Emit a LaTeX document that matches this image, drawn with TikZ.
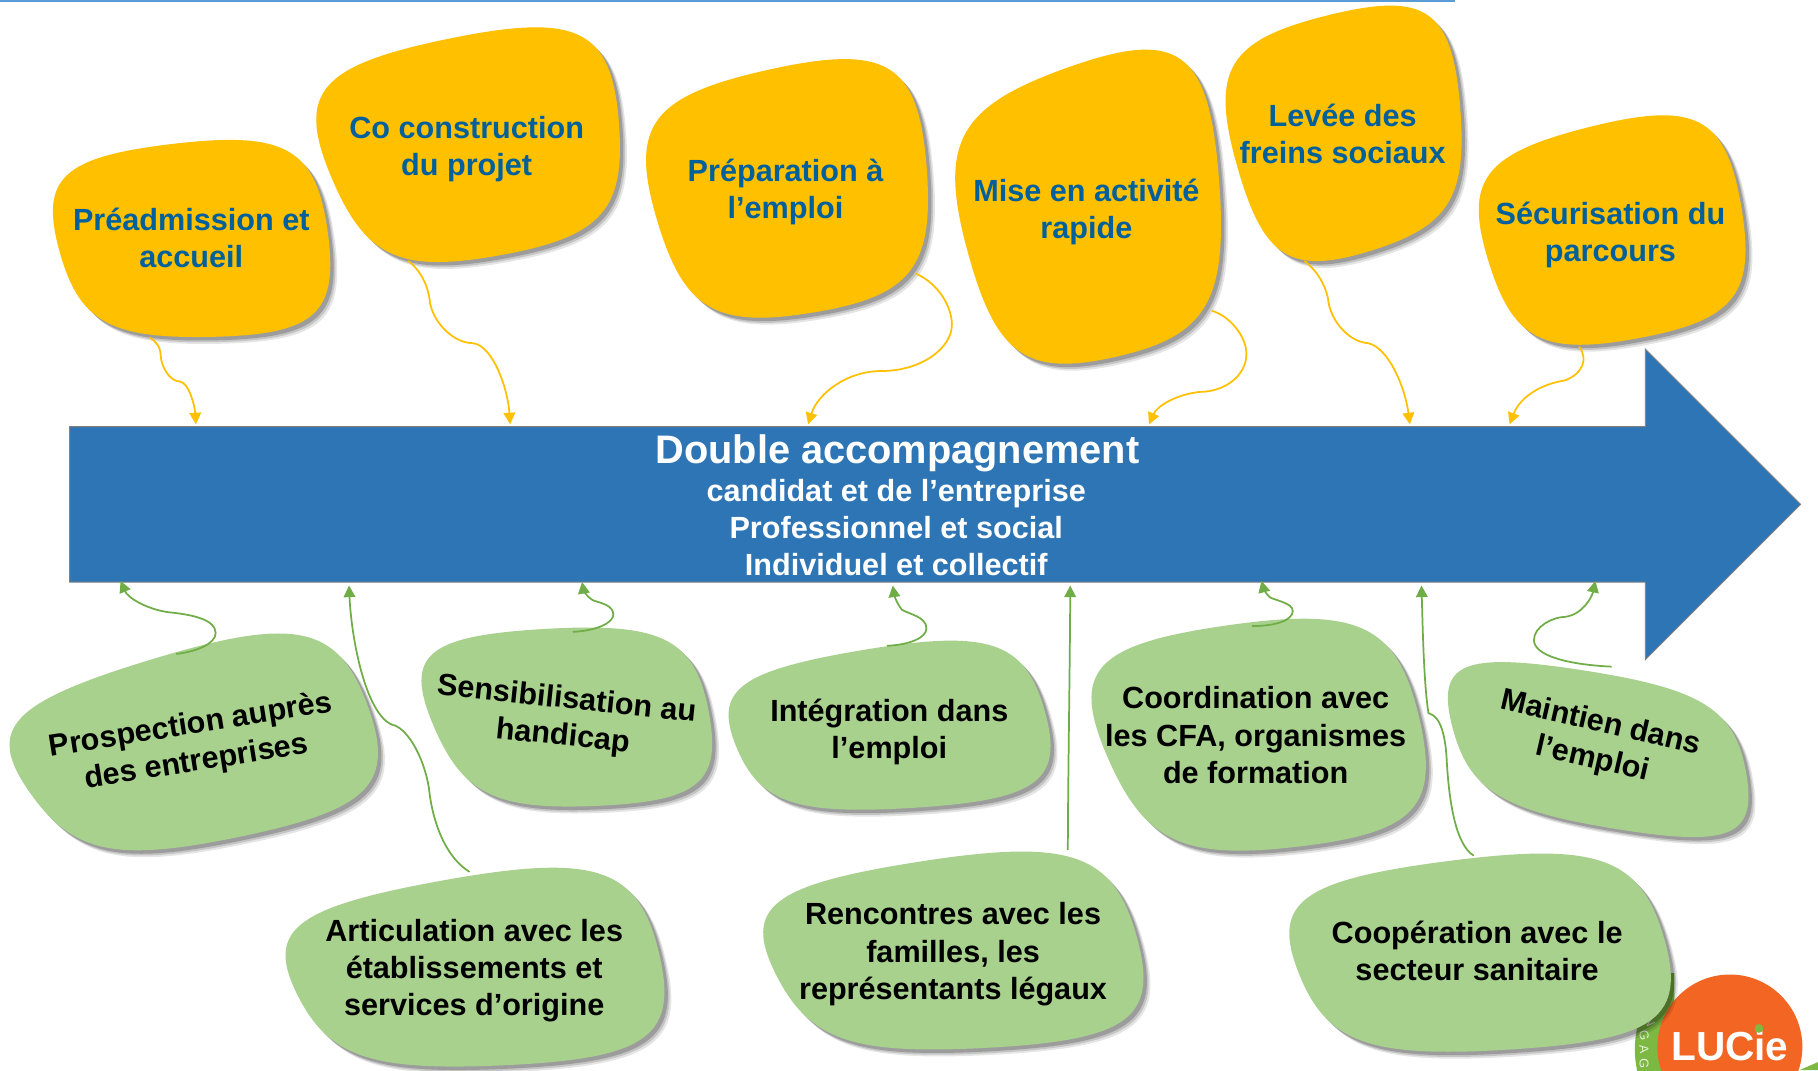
\documentclass[tikz,border=0pt]{standalone}
\usepackage{fontspec}
\setmainfont{Liberation Sans}
\usetikzlibrary{arrows.meta,calc}
\definecolor{orangeblob}{HTML}{FFC000}
\definecolor{greenblob}{HTML}{A9D18E}
\definecolor{greenline}{HTML}{70AD47}
\definecolor{blueband}{HTML}{2E75B6}
\definecolor{blueline}{HTML}{5B9BD5}
\definecolor{bluetext}{HTML}{00609C}
\definecolor{logoorange}{HTML}{F26522}
\definecolor{logogreen}{HTML}{7DB843}
\tikzset{
  x=1pt,y=-1pt,
  orangetext/.style={font=\fontsize{26.4}{32}\selectfont\bfseries,text=bluetext,align=center,inner sep=0pt},
  greentext/.style={font=\fontsize{26.4}{32}\selectfont\bfseries,text=black,align=center,inner sep=0pt},
  whitetext/.style={font=\fontsize{26.4}{32}\selectfont\bfseries,text=white,align=center,inner sep=0pt},
  orangelink/.style={draw=orangeblob,line width=1.5pt,-{Triangle[length=10pt,width=10pt]}},
  greenlink/.style={draw=greenline,line width=1.5pt,-{Triangle[length=10pt,width=10pt]}},
  ringletter/.style={font=\fontsize{11}{11}\selectfont,text=white!80!logogreen,inner sep=0pt},
}
\newcommand{\myblob}[5]{%
  \coordinate (pa) at #2; \coordinate (pb) at #3; \coordinate (pc) at #4; \coordinate (pd) at #5;
  \coordinate (mab) at ($(pa)!.5!(pb)$); \coordinate (mbc) at ($(pb)!.5!(pc)$);
  \coordinate (mcd) at ($(pc)!.5!(pd)$); \coordinate (mda) at ($(pd)!.5!(pa)$);
  \def\blobshape{(mab) .. controls ($(mab)!.8!(pb)$) and ($(mbc)!.8!(pb)$) .. (mbc)
    .. controls ($(mbc)!.8!(pc)$) and ($(mcd)!.8!(pc)$) .. (mcd)
    .. controls ($(mcd)!.8!(pd)$) and ($(mda)!.8!(pd)$) .. (mda)
    .. controls ($(mda)!.8!(pa)$) and ($(mab)!.8!(pa)$) .. (mab) -- cycle}%
  \fill[black,opacity=.10,transform canvas={xshift=6pt,yshift=-6pt}] \blobshape;
  \fill[black,opacity=.14,transform canvas={xshift=4.5pt,yshift=-4.5pt}] \blobshape;
  \fill[black,opacity=.20,transform canvas={xshift=3pt,yshift=-3pt}] \blobshape;
  \fill[#1] \blobshape;
}
\begin{document}
\begin{tikzpicture}
\useasboundingbox (0,0) rectangle (1568,923);
\fill[white] (0,0) rectangle (1568,923);
\draw[blueline,line width=2pt] (0,1) -- (1255,1);

% logo
\begin{scope}
\clip (1400,840) rectangle (1444,923);
\fill[logogreen] (1494,905) circle[radius=84];
\end{scope}
\fill[logoorange] (1492,903) circle[radius=62.5];
\fill[logogreen] (1552,923) -- (1568,923) -- (1568,916) -- cycle;
\node[font=\fontsize{35}{35}\selectfont\bfseries,text=white,inner sep=0pt,anchor=base] (logo) at (1492,915) {LUCie};
\fill[logogreen] (1517,887) circle[radius=3.8];
\node[ringletter,rotate=-65] (ringn) at (1423,881) {N};
\node[ringletter,rotate=-78] (ringg) at (1418,893) {G};
\node[ringletter,rotate=-85] (ringa) at (1418,905) {A};
\node[ringletter,rotate=-92] (ringh) at (1418,917) {G};

% band
\draw[fill=blueband,draw=gray,line width=.8pt] (60,368) -- (1419,368) -- (1419,301) -- (1553,435) -- (1419,569) -- (1419,502) -- (60,502) -- cycle;
\node[font=\fontsize{34.3}{40}\selectfont\bfseries,text=white,inner sep=0pt] (title) at (774,391) {Double accompagnement};
\node[whitetext] (sub) at (773,455) {candidat et de l’entreprise\\Professionnel et social\\Individuel et collectif};

% orange blobs
\myblob{orangeblob}{(30,138)}{(270,110)}{(295,288)}{(72,293)}
\myblob{orangeblob}{(248,62)}{(525,5)}{(542,200)}{(322,240)}
\myblob{orangeblob}{(537,88)}{(790,32)}{(808,252)}{(595,287)}
\myblob{orangeblob}{(803,100)}{(1040,16)}{(1062,285)}{(865,330)}
\myblob{orangeblob}{(1038,40)}{(1250,-13)}{(1268,190)}{(1095,243)}
\myblob{orangeblob}{(1257,138)}{(1485,81)}{(1518,272)}{(1310,311)}

% green blobs
\myblob{greenblob}{(-22,615)}{(285,522)}{(348,692)}{(72,750)}
\myblob{greenblob}{(342,550)}{(596,535)}{(626,690)}{(405,700)}
\myblob{greenblob}{(610,583)}{(880,538)}{(922,688)}{(660,705)}
\myblob{greenblob}{(915,560)}{(1200,519)}{(1247,715)}{(995,745)}
\myblob{greenblob}{(1235,558)}{(1494,598)}{(1518,735)}{(1270,695)}
\myblob{greenblob}{(222,788)}{(546,730)}{(590,911)}{(290,926)}
\myblob{greenblob}{(633,768)}{(955,718)}{(1005,895)}{(705,912)}
\myblob{greenblob}{(1090,763)}{(1410,722)}{(1460,895)}{(1150,915)}

% texts
\node[orangetext] (o1) at (165,205.5) {Préadmission et\\accueil};
\node[orangetext] (o2) at (402.5,128.5) {Co construction\\du projet};
\node[orangetext] (o3) at (677.5,165.5) {Préparation à\\l’emploi};
\node[orangetext] (o4) at (937,182.5) {Mise en activité\\rapide};
\node[orangetext] (o5) at (1158,115.5) {Levée des\\freins sociaux};
\node[orangetext] (o6) at (1389,203) {Sécurisation du\\parcours};
\node[greentext,rotate=9] (g1) at (167,642) {Prospection auprès\\des entreprises};
\node[greentext,rotate=-6] (g2) at (487,620) {Sensibilisation au\\handicap};
\node[greentext] (g3) at (767,631) {Intégration dans\\l’emploi};
\node[greentext] (g4) at (1083,634) {Coordination avec\\les CFA, organismes\\de formation};
\node[greentext,rotate=-13] (g5) at (1377,640) {Maintien dans\\l’emploi};
\node[greentext] (g6) at (409,837) {Articulation avec les\\établissements et\\services d’origine};
\node[greentext] (g7) at (822,823) {Rencontres avec les\\familles, les\\représentants légaux};
\node[greentext] (g8) at (1274,820) {Coopération avec le\\secteur sanitaire};

% connector ends
\coordinate (os1) at (129,291); \coordinate (oe1) at (169,366);
\coordinate (os2) at (352,225); \coordinate (oe2) at (440,366);
\coordinate (os3) at (790,236); \coordinate (oe3) at (697,366);
\coordinate (os4) at (1045,268); \coordinate (oe4) at (991,366);
\coordinate (os5) at (1125,225); \coordinate (oe5) at (1216,366);
\coordinate (os6) at (1362,299); \coordinate (oe6) at (1302,366);
\coordinate (gs1) at (152,564); \coordinate (ge1) at (104,501);
\coordinate (gs2) at (405,752); \coordinate (ge2) at (301,505);
\coordinate (gs3) at (494,545); \coordinate (ge3) at (502,502);
\coordinate (gs4) at (765,557); \coordinate (ge4) at (770,505);
\coordinate (gs5) at (921,733); \coordinate (ge5) at (923,505);
\coordinate (gs6) at (1080,540); \coordinate (ge6) at (1088,501);
\coordinate (gs7) at (1271,738); \coordinate (ge7) at (1226,505);
\coordinate (gs8) at (1390,575); \coordinate (ge8) at (1376,501);

\draw[orangelink] (os1) .. controls (140,298) and (138,305) .. (139,310) .. controls (141,320) and (148,329) .. (155,329) .. controls (163,330) and (168,350) .. (oe1);
\draw[orangelink] (os2) .. controls (365,235) and (370,250) .. (371,262) .. controls (375,280) and (392,296) .. (408,296) .. controls (425,298) and (438,335) .. (oe2);
\draw[orangelink] (os3) .. controls (810,245) and (821,265) .. (821,280) .. controls (821,300) and (795,320) .. (760,320) .. controls (730,320) and (705,340) .. (oe3);
\draw[orangelink] (os4) .. controls (1060,272) and (1075,290) .. (1075,305) .. controls (1075,325) and (1055,338) .. (1035,338) .. controls (1015,340) and (998,350) .. (oe4);
\draw[orangelink] (os5) .. controls (1138,235) and (1145,250) .. (1146,262) .. controls (1150,280) and (1165,295) .. (1180,296) .. controls (1198,300) and (1212,335) .. (oe5);
\draw[orangelink] (os6) .. controls (1370,310) and (1365,322) .. (1350,328) .. controls (1325,332) and (1310,345) .. (oe6);

\draw[greenlink] (gs1) .. controls (170,562) and (186,555) .. (186,546) .. controls (186,534) and (165,530) .. (145,528) .. controls (125,525) and (110,515) .. (ge1);
\draw[greenlink] (gs2) .. controls (385,740) and (373,710) .. (370,680) .. controls (365,650) and (350,627) .. (338,625) .. controls (315,615) and (303,550) .. (ge2);
\draw[greenlink] (gs3) .. controls (515,544) and (529,537) .. (529,530) .. controls (529,522) and (518,520) .. (512,518) .. controls (506,515) and (503,508) .. (ge3);
\draw[greenlink] (gs4) .. controls (785,556) and (799,550) .. (799,542) .. controls (799,532) and (785,530) .. (778,526) .. controls (773,520) and (771,512) .. (ge4);
\draw[greenlink] (gs5) .. controls (921,680) and (923,560) .. (ge5);
\draw[greenlink] (gs6) .. controls (1100,540) and (1115,535) .. (1115,527) .. controls (1115,520) and (1100,518) .. (1095,515) .. controls (1090,510) and (1089,505) .. (ge6);
\draw[greenlink] (gs7) .. controls (1255,728) and (1250,690) .. (1248,660) .. controls (1247,635) and (1243,618) .. (1232,615) .. controls (1228,590) and (1227,540) .. (ge7);
\draw[greenlink] (gs8) .. controls (1350,573) and (1323,565) .. (1323,552) .. controls (1323,540) and (1340,532) .. (1350,532) .. controls (1365,530) and (1373,515) .. (ge8);
\end{tikzpicture}
\end{document}
